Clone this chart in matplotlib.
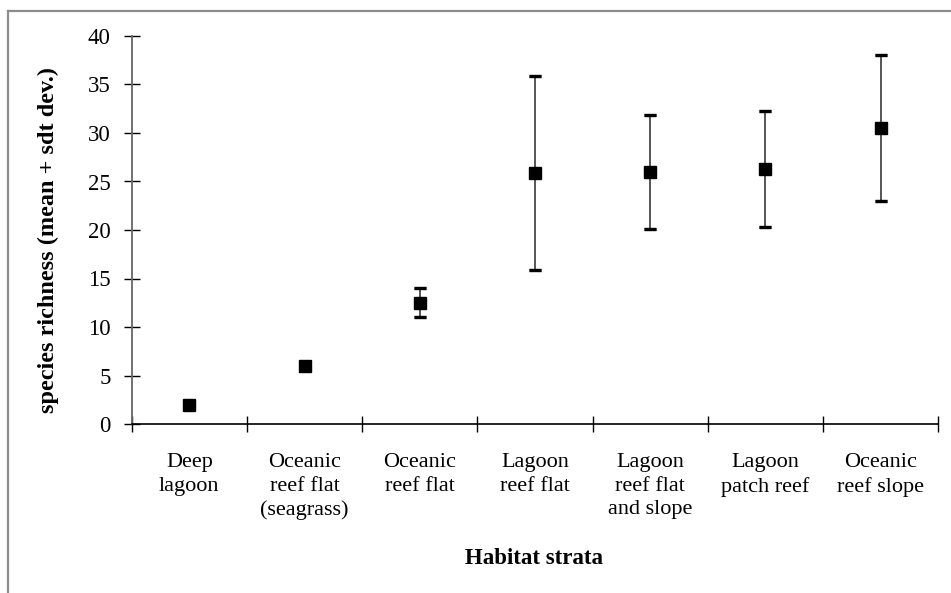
import numpy as np
import matplotlib
matplotlib.use("Agg")
import matplotlib.pyplot as plt
from matplotlib.lines import Line2D

# habitat strata and species richness (mean, sd)
habitats = ["Deep\nlagoon", "Oceanic\nreef flat\n(seagrass)", "Oceanic\nreef flat",
            "Lagoon\nreef flat", "Lagoon\nreef flat\nand slope", "Lagoon\npatch reef",
            "Oceanic\nreef slope"]
mean_richness = [2.0, 6.0, 12.5, 25.9, 26.0, 26.3, 30.5]
sd_richness = [0.0, 0.0, 1.5, 10.0, 5.9, 5.95, 7.5]
y_ticks = [0, 5, 10, 15, 20, 25, 30, 35, 40]

plt.rcParams["font.family"] = ["Liberation Serif", "DejaVu Serif"]

fig = plt.figure(figsize=(9.51, 5.93), dpi=100)
ax = fig.add_axes([131.7 / 951, 1 - 424 / 593, (938.3 - 131.7) / 951, (424 - 36) / 593])

x = np.arange(len(habitats)) + 0.5
ax.errorbar(x, mean_richness, yerr=sd_richness, fmt="s", color="black",
            markersize=8, ecolor="#555555", elinewidth=1.4, capsize=4.3,
            capthick=2.2, zorder=3)
# caps drawn black on top of grey stems
for xi, m, s in zip(x, mean_richness, sd_richness):
    if s > 0:
        ax.plot([xi, xi], [m - s, m + s], linestyle="none", marker="_",
                markersize=8.6, markeredgewidth=2.4, color="black", zorder=4)

ax.set_xlim(0, len(habitats))
ax.set_ylim(0, 40)
ax.set_yticks(y_ticks)
ax.set_xticks(np.arange(len(habitats) + 1))
ax.set_xticklabels([])
ax.set_xticks(x, minor=True)
ax.set_xticklabels(habitats, minor=True, fontsize=16, linespacing=1.32)
ax.tick_params(axis="x", which="minor", length=0, pad=21)
ax.tick_params(axis="x", which="major", direction="inout", length=11, width=1.0, color="black")
ax.tick_params(axis="y", direction="inout", length=12, width=1.0, labelsize=16.5, pad=9)

for side in ["top", "right"]:
    ax.spines[side].set_visible(False)
ax.spines["left"].set_color("#666666")
ax.spines["left"].set_linewidth(1.3)
ax.spines["bottom"].set_color("black")
ax.spines["bottom"].set_linewidth(1.2)

ax.set_ylabel("species richness (mean + sdt dev.)", fontsize=17.5, fontweight="bold")
ax.yaxis.set_label_coords(-0.09, 0.475)
fig.text(534 / 951, 1 - 559 / 593, "Habitat strata", fontsize=16.5, fontweight="bold",
         ha="center", va="center")

# outer chart-area border (top and left visible)
fig.add_artist(Line2D([8 / 951, 8 / 951], [0, 1 - 11 / 593], transform=fig.transFigure,
                      color="#8c8c8c", linewidth=1.6))
fig.add_artist(Line2D([8 / 951, 1], [1 - 11 / 593, 1 - 11 / 593], transform=fig.transFigure,
                      color="#8c8c8c", linewidth=1.6))

fig.savefig("out.png", dpi=100)
